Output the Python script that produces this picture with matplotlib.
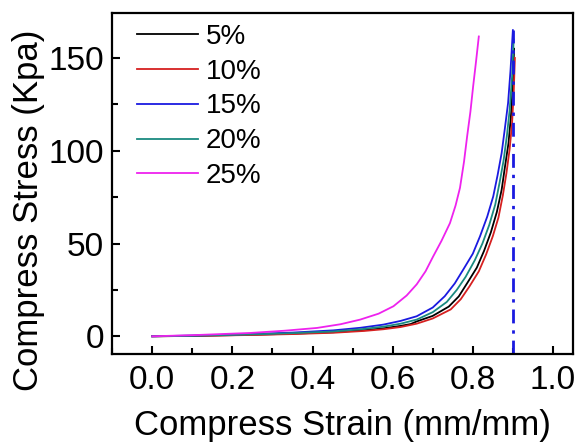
import matplotlib
matplotlib.use("Agg")
import matplotlib.pyplot as plt
from matplotlib.ticker import MultipleLocator, FormatStrFormatter

plt.rcParams['font.family'] = ['Liberation Sans', 'DejaVu Sans']

# strain (mm/mm) vs stress (kPa)
x5 = [0.0, 0.1, 0.245, 0.35, 0.452, 0.53, 0.577, 0.62, 0.645, 0.66, 0.7, 0.74, 0.765, 0.787, 0.81, 0.828, 0.845, 0.86, 0.872, 0.88, 0.889, 0.895, 0.9, 0.903]
y5 = [0.0, 0.2, 0.8, 1.4, 2.2, 3.3, 4.3, 5.6, 6.6, 8.0, 11.0, 16.0, 21.5, 29.0, 37.0, 46.0, 56.0, 67.0, 79.0, 91.0, 104.0, 118.0, 136.0, 155.0]

x10 = [0.0, 0.1, 0.245, 0.35, 0.452, 0.53, 0.577, 0.62, 0.66, 0.7, 0.745, 0.77, 0.792, 0.815, 0.833, 0.85, 0.864, 0.875, 0.884, 0.892, 0.898, 0.902, 0.905]
y10 = [0.0, 0.2, 0.7, 1.2, 1.9, 2.9, 3.8, 5.0, 6.8, 9.6, 14.5, 20.0, 27.0, 35.0, 44.0, 54.0, 64.0, 76.0, 88.0, 101.0, 115.0, 131.0, 150.0]

x15 = [0.0, 0.1, 0.245, 0.35, 0.452, 0.52, 0.577, 0.62, 0.66, 0.7, 0.73, 0.755, 0.776, 0.8, 0.818, 0.836, 0.851, 0.862, 0.872, 0.88, 0.888, 0.894, 0.9]
y15 = [0.0, 0.4, 1.2, 2.0, 3.2, 4.6, 6.3, 8.3, 10.8, 15.5, 21.6, 28.5, 35.9, 44.5, 53.9, 64.5, 75.4, 87.0, 98.8, 112.0, 125.7, 143.0, 165.0]

x20 = [0.0, 0.1, 0.245, 0.35, 0.452, 0.52, 0.577, 0.62, 0.66, 0.7, 0.735, 0.76, 0.782, 0.805, 0.824, 0.841, 0.856, 0.867, 0.877, 0.885, 0.892, 0.898, 0.902]
y20 = [0.0, 0.3, 1.0, 1.7, 2.6, 3.8, 5.2, 6.8, 9.0, 13.0, 18.5, 25.0, 32.0, 41.0, 50.0, 60.0, 71.0, 83.0, 95.0, 108.0, 122.0, 140.0, 160.0]

x25 = [0.0, 0.1, 0.245, 0.33, 0.411, 0.47, 0.519, 0.565, 0.602, 0.635, 0.66, 0.682, 0.701, 0.722, 0.743, 0.757, 0.768, 0.778, 0.786, 0.794, 0.801, 0.808, 0.815]
y25 = [0.0, 0.6, 1.8, 3.0, 4.5, 6.5, 9.0, 12.2, 16.2, 22.0, 28.0, 35.0, 43.0, 51.5, 61.0, 70.5, 80.0, 94.0, 108.0, 121.0, 135.0, 148.0, 161.6]

labels = ['5%', '10%', '15%', '20%', '25%']
colors = ['black', '#d62020', '#1a1ae0', '#1a8a80', '#ee22ee']

vline_x = 0.9
vline_top = 165

fig = plt.figure(figsize=(5.75, 4.48), dpi=100)
ax = fig.add_axes([0.195, 0.21, 0.8015, 0.762])

for xs, ys, lab, c in zip([x5, x10, x15, x20, x25], [y5, y10, y15, y20, y25], labels, colors):
    ax.plot(xs, ys, color=c, lw=1.3, label=lab)

ax.plot([vline_x, vline_x], [-9.5, vline_top], color='#1a1ae0', lw=2,
        dashes=(5, 2.5, 1.2, 2.5))

ax.set_xlim(-0.1, 1.05)
ax.set_ylim(-9.5, 174.5)
ax.xaxis.set_major_locator(MultipleLocator(0.2))
ax.xaxis.set_minor_locator(MultipleLocator(0.1))
ax.yaxis.set_major_locator(MultipleLocator(50))
ax.yaxis.set_minor_locator(MultipleLocator(25))
ax.xaxis.set_major_formatter(FormatStrFormatter('%.1f'))

ax.tick_params(which='both', direction='in', width=1.5, labelsize=24, top=False, right=False)
ax.tick_params(which='major', length=6, pad=6)
ax.tick_params(axis='x', which='major', pad=8)
ax.tick_params(which='minor', length=4)
for s in ax.spines.values():
    s.set_linewidth(1.6)

ax.set_xlabel('Compress Strain (mm/mm)', fontsize=25, labelpad=9)
ax.set_ylabel('Compress Stress (Kpa)', fontsize=25)
ax.yaxis.set_label_coords(-0.145, 0.42)

ax.legend(loc='upper left', frameon=False, fontsize=20, handlelength=2.2,
          handletextpad=0.26, labelspacing=0.32, borderaxespad=0.0,
          bbox_to_anchor=(0.03, 1.0))

fig.savefig('out.png', dpi=100)
